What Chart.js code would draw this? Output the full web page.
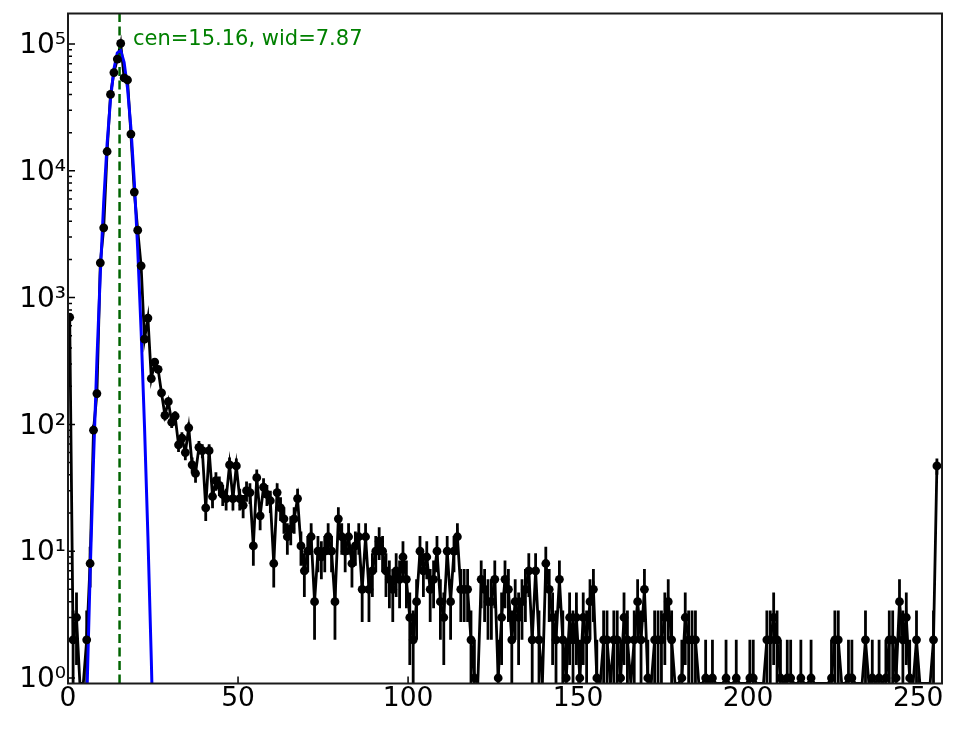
<!DOCTYPE html>
<html lang="en">
<head>
<meta charset="UTF-8">
<title>Histogram with gaussian fit</title>
<style>
    html, body { margin: 0; padding: 0; background: #fff; }
    .chart-container { width: 964px; height: 729px; }
</style>
</head>
<body>
<div class="chart-container">
    <canvas id="hist-chart" width="964" height="729"></canvas>
</div>
<script src="https://cdn.jsdelivr.net/npm/chart.js"></script>
<script>
// counts per bin (bins 0..255)
var counts = [
    700, 2, 3, 0, 0, 2, 8, 90, 175, 1880, 3550, 14200, 40000, 59500, 76000, 101000,
    54000, 52000, 19500, 6800, 3400, 1780, 470, 690, 230, 310, 272, 177, 118, 151, 104, 116,
    69, 78, 60, 94, 48, 41, 66, 62, 22, 62, 27, 36, 33, 28, 26, 48,
    26, 47, 26, 23, 30, 29, 11, 38, 19, 32, 28, 25, 8, 29, 22, 18,
    13, 15, 18, 26, 11, 7, 10, 13, 4, 10, 9, 10, 13, 10, 4, 18,
    13, 10, 13, 8, 11, 13, 5, 13, 5, 7, 10, 12, 10, 7, 6, 5,
    7, 6, 9, 6, 3, 2, 4, 10, 7, 9, 5, 6, 10, 4, 3, 10,
    4, 10, 13, 5, 5, 5, 2, 1, 0, 6, 5, 4, 4, 6, 1, 3,
    6, 5, 2, 4, 3, 4, 5, 7, 2, 7, 2, 0, 8, 5, 3, 2,
    6, 2, 1, 3, 2, 3, 1, 3, 2, 4, 5, 1, 0, 2, 2, 0,
    2, 2, 1, 3, 2, 0, 2, 4, 2, 5, 1, 0, 2, 2, 2, 3,
    4, 2, 0, 0, 1, 3, 2, 2, 2, 0, 0, 1, 0, 1, 0, 0,
    0, 1, 0, 0, 1, 0, 0, 0, 1, 1, 0, 0, 0, 2, 2, 3,
    2, 1, 0, 1, 1, 0, 0, 1, 0, 0, 1, 0, 0, 0, 0, 0,
    1, 2, 2, 0, 0, 1, 1, 0, 0, 0, 2, 0, 1, 0, 1, 0,
    1, 2, 2, 1, 4, 2, 3, 1, 0, 2, 0, 0, 0, 0, 2, 47
];

// fitted curve (blue), sampled on the same bins
var fitBins = [3, 4, 5, 6, 7, 8, 9, 10, 11, 12, 13, 14, 15, 16, 17, 18, 19, 20, 21, 22, 23, 24, 25, 26];
var fitValues = [0.0028, 0.048, 0.637, 6.54, 52.0, 321, 1535, 5700, 16400, 36600, 63400, 85200,
                 88700, 71600, 44900, 21800, 8220, 2400, 545, 95.8, 13.1, 1.38, 0.113, 0.0072];
var fitCen = 15.16;
var fitWid = 7.87;

var xTicks = [0, 50, 100, 150, 200, 250];
var yTicks = [1, 10, 100, 1000, 10000, 100000];
var yTickLabels = ['10\u2070', '10\u00b9', '10\u00b2', '10\u00b3', '10\u2074', '10\u2075'];
var yMin = 0.905, yMax = 174000;

// empty bins sit on the bottom edge (log axis), like a clipped zero
var points = counts.map(function (n, i) {
    return { x: i + 0.5, y: n > 0 ? n : yMin };
});
var fitPoints = fitBins.map(function (b, i) {
    return { x: b + 0.5, y: fitValues[i] };
});

var errorBars = {
    id: 'errorBars',
    beforeDatasetsDraw: function (chart) {
        var xs = chart.scales.x, ys = chart.scales.y, a = chart.chartArea, c = chart.ctx;
        c.save();
        c.beginPath();
        c.rect(a.left, a.top, a.right - a.left, a.bottom - a.top);
        c.clip();
        c.strokeStyle = '#000';
        c.lineWidth = 2.8;
        c.beginPath();
        counts.forEach(function (n, i) {
            if (n <= 0) return;
            var err = Math.sqrt(n);
            var px = xs.getPixelForValue(i + 0.5);
            var lo = n - err;
            c.moveTo(px, ys.getPixelForValue(n + err));
            c.lineTo(px, lo > yMin ? ys.getPixelForValue(lo) : a.bottom + 5);
        });
        c.stroke();
        c.restore();
    }
};

var frameAndText = {
    id: 'frameAndText',
    afterDraw: function (chart) {
        var xs = chart.scales.x, ys = chart.scales.y, a = chart.chartArea, c = chart.ctx;
        c.save();
        c.strokeStyle = '#000';
        c.lineWidth = 1.5;
        c.beginPath();
        xTicks.forEach(function (v) {
            var px = xs.getPixelForValue(v);
            c.moveTo(px, a.bottom);
            c.lineTo(px, a.bottom - 7);
        });
        for (var e = -1; e <= 6; e++) {
            for (var m = 1; m <= 9; m++) {
                var v = m * Math.pow(10, e);
                if (v < ys.min || v > ys.max) continue;
                var py = ys.getPixelForValue(v);
                c.moveTo(a.left, py);
                c.lineTo(a.left + (m === 1 ? 7 : 4), py);
            }
        }
        c.stroke();
        c.lineWidth = 2;
        c.strokeStyle = '#1a1a1a';
        c.strokeRect(a.left, a.top, a.right - a.left, a.bottom - a.top);

        c.fillStyle = '#008000';
        c.font = '21px "DejaVu Sans"';
        c.textAlign = 'left';
        c.textBaseline = 'alphabetic';
        c.fillText('cen=' + fitCen.toFixed(2) + ', wid=' + fitWid.toFixed(2),
                   xs.getPixelForValue(19.1), ys.getPixelForValue(100000) + 1);
        c.restore();
    }
};

var ctx = document.getElementById('hist-chart').getContext('2d');
var chart = new Chart(ctx, {
    type: 'line',
    data: {
        datasets: [
            {
                data: points, borderColor: '#000', borderWidth: 2.8,
                pointRadius: 0, tension: 0, clip: 0, order: 4
            },
            {
                data: fitPoints, borderColor: '#0000ff', borderWidth: 3,
                pointRadius: 0, tension: 0, clip: 0, order: 3
            },
            {
                data: [{ x: fitCen, y: yMin }, { x: fitCen, y: yMax }],
                borderColor: '#006400', borderWidth: 2.5, borderDash: [9, 4.5],
                pointRadius: 0, clip: 0, order: 2
            },
            {
                data: points.slice(), showLine: false,
                pointRadius: function (c) { return counts[c.dataIndex] > 0 ? 4.4 : 0; },
                pointBackgroundColor: '#000', pointBorderWidth: 0, clip: 0, order: 1
            }
        ]
    },
    options: {
        responsive: false,
        animation: false,
        events: [],
        layout: { padding: { top: 13.5, right: 22, left: 0, bottom: 0 } },
        plugins: { legend: { display: false }, tooltip: { enabled: false } },
        scales: {
            x: {
                type: 'linear', min: 0, max: 257,
                grid: { display: false, drawTicks: false },
                border: { display: false },
                afterBuildTicks: function (s) { s.ticks = xTicks.map(function (v) { return { value: v }; }); },
                afterFit: function (s) { s.height = 45.5; s.paddingLeft = 0; s.paddingRight = 0; },
                ticks: {
                    autoSkip: false, maxRotation: 0, padding: 0, color: '#000',
                    font: { family: 'DejaVu Sans', size: 26.5 },
                    callback: function (v) { return String(v); }
                }
            },
            y: {
                type: 'logarithmic', min: yMin, max: yMax,
                grid: { display: false, drawTicks: false },
                border: { display: false },
                afterBuildTicks: function (s) { s.ticks = yTicks.map(function (v) { return { value: v }; }); },
                afterFit: function (s) { s.width = 68; s.paddingTop = 0; s.paddingBottom = 0; },
                ticks: {
                    autoSkip: false, padding: 2, labelOffset: 2, color: '#000',
                    font: { family: 'DejaVu Sans', size: 28, lineHeight: 0.9 },
                    callback: function (v) {
                        var i = yTicks.indexOf(v);
                        return i >= 0 ? yTickLabels[i] : '';
                    }
                }
            }
        }
    },
    plugins: [errorBars, frameAndText]
});
</script>
</body>
</html>
